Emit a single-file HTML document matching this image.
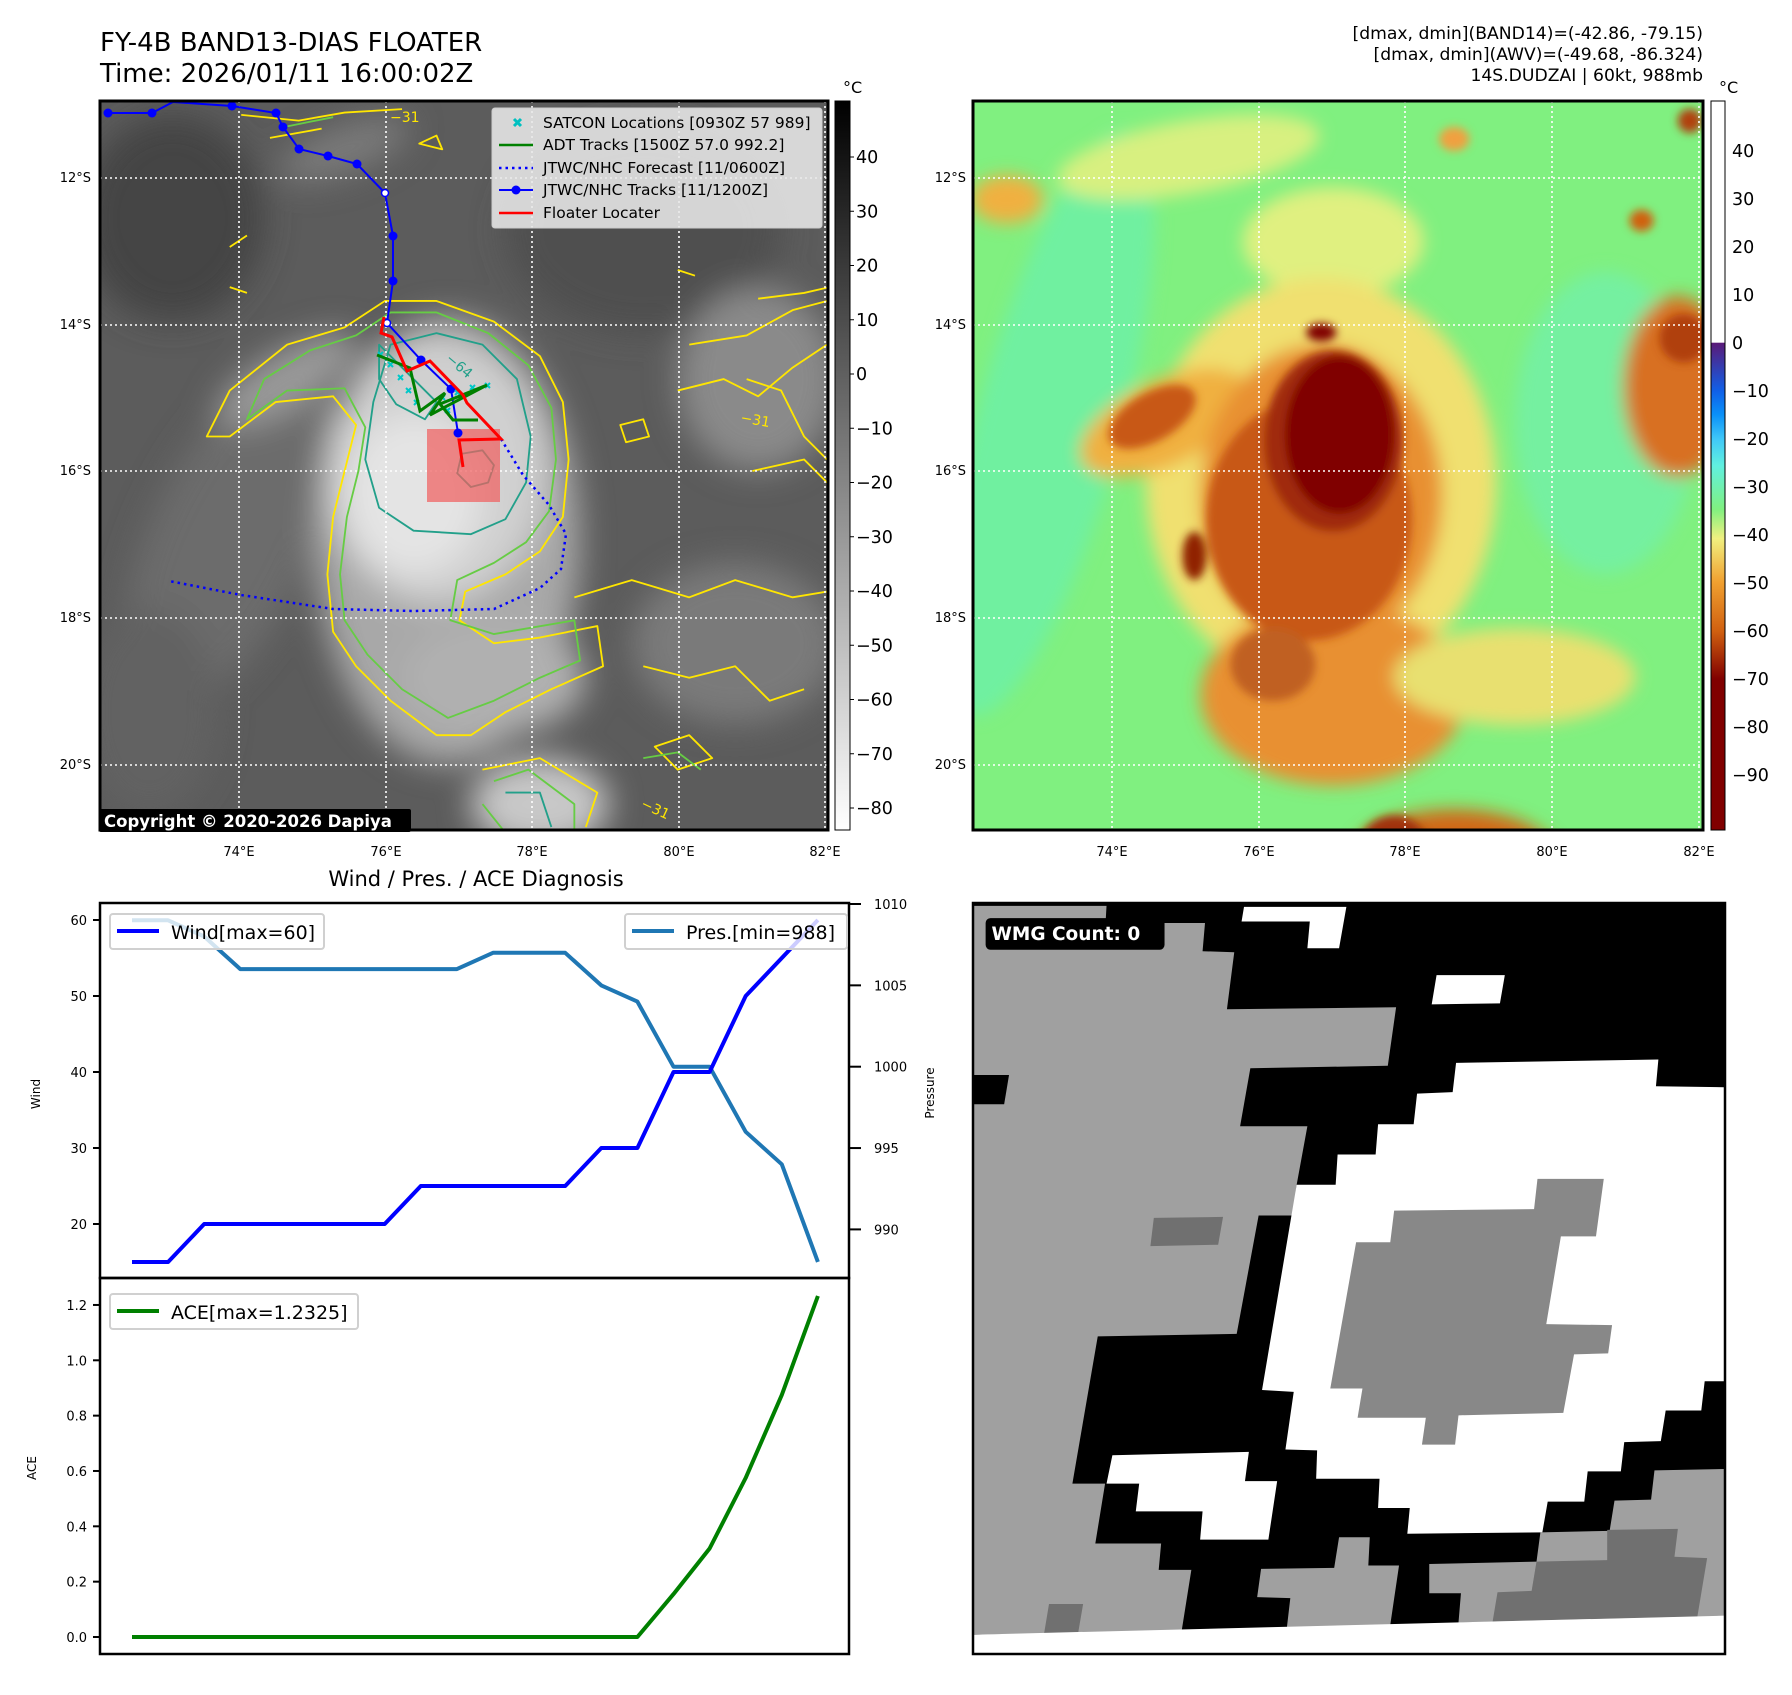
<!DOCTYPE html>
<html><head><meta charset="utf-8"><title>FY-4B BAND13-DIAS FLOATER</title>
<style>
html,body{margin:0;padding:0;background:#fff;}
body{width:1792px;height:1690px;overflow:hidden;font-family:"Liberation Sans","DejaVu Sans",sans-serif;}
svg text{font-family:"DejaVu Sans","Liberation Sans",sans-serif;}
</style></head>
<body>
<svg id="root" width="1792" height="1690" viewBox="0 0 1792 1690" xmlns="http://www.w3.org/2000/svg">
<defs>
  <clipPath id="clipL"><rect x="100" y="101" width="728" height="729"/></clipPath>
  <clipPath id="clipR"><rect x="973" y="101" width="730" height="729"/></clipPath>
  <clipPath id="clipW"><rect x="973" y="903" width="752" height="751"/></clipPath>
  <filter id="blur1" filterUnits="userSpaceOnUse" x="-500" y="-500" width="3000" height="3000"><feGaussianBlur stdDeviation="14"/></filter>
  <filter id="blur2" filterUnits="userSpaceOnUse" x="-500" y="-500" width="3000" height="3000"><feGaussianBlur stdDeviation="7"/></filter>
  <linearGradient id="cbL" x1="0" y1="0" x2="0" y2="1">
    <stop offset="0" stop-color="#000"/><stop offset="1" stop-color="#fff"/>
  </linearGradient>
  <linearGradient id="cbR" x1="0" y1="0" x2="0" y2="1">
    <stop offset="0" stop-color="#fff"/><stop offset="0.331" stop-color="#fff"/>
    <stop offset="0.332" stop-color="#5a1a78"/><stop offset="0.398" stop-color="#1060e8"/>
    <stop offset="0.43" stop-color="#0a90f8"/><stop offset="0.464" stop-color="#40c8f8"/>
    <stop offset="0.5" stop-color="#60f0e0"/><stop offset="0.56" stop-color="#80f080"/>
    <stop offset="0.6" stop-color="#f0f080"/><stop offset="0.66" stop-color="#f0a030"/>
    <stop offset="0.727" stop-color="#d06010"/><stop offset="0.793" stop-color="#800000"/>
    <stop offset="1" stop-color="#800000"/>
  </linearGradient>
</defs>

<text x="100" y="51" font-size="26" fill="#000">FY-4B BAND13-DIAS FLOATER</text>
<text x="100" y="82" font-size="26" fill="#000">Time: 2026/01/11 16:00:02Z</text>
<g font-size="17.2" text-anchor="end" fill="#000">
  <text x="1703" y="39">[dmax, dmin](BAND14)=(-42.86, -79.15)</text>
  <text x="1703" y="60">[dmax, dmin](AWV)=(-49.68, -86.324)</text>
  <text x="1703" y="81">14S.DUDZAI | 60kt, 988mb</text>
</g>

<!-- LEFT MAP -->
<g clip-path="url(#clipL)">
  <rect x="100" y="101" width="728" height="729" fill="#5c5c5c"/>
  <g filter="url(#blur1)" transform="scale(1.1487)">
    <ellipse cx="150" cy="190" rx="80" ry="90" fill="#444"/>
    <ellipse cx="560" cy="200" rx="120" ry="90" fill="#505050"/>
    <ellipse cx="200" cy="470" rx="70" ry="160" fill="#6c6c6c" transform="rotate(25 200 470)"/>
    <ellipse cx="130" cy="620" rx="60" ry="90" fill="#626262"/>
    <ellipse cx="660" cy="330" rx="70" ry="80" fill="#8a8a8a"/>
    <ellipse cx="640" cy="560" rx="90" ry="70" fill="#7a7a7a"/>
    <ellipse cx="390" cy="470" rx="115" ry="195" fill="#a8a8a8"/>
    <ellipse cx="380" cy="410" rx="95" ry="115" fill="#d0d0d0"/>
    <ellipse cx="360" cy="430" rx="60" ry="70" fill="#e4e4e4"/>
    <ellipse cx="430" cy="590" rx="80" ry="50" fill="#b0b0b0"/>
    <ellipse cx="470" cy="700" rx="60" ry="40" fill="#c8c8c8"/>
    <ellipse cx="250" cy="330" rx="70" ry="25" fill="#9a9a9a" transform="rotate(-30 250 330)"/>
    <ellipse cx="300" cy="130" rx="60" ry="20" fill="#7a7a7a" transform="rotate(-20 300 130)"/>
  </g>
  <g transform="scale(1.1487)" fill="none" stroke-width="1.6" stroke-linejoin="round">
    <path stroke="#ffe600" d="M335,262 L380,262 L430,280 L470,310 L490,350 L495,400 L490,450 L470,480 L440,500 L405,515 L400,540 L430,560 L470,555 L520,545 L525,580 L480,600 L440,620 L410,640 L380,640 L340,610 L310,580 L290,550 L285,500 L290,450 L300,410 L310,370 L290,345 L240,350 L200,380 L180,380 L200,340 L250,300 L300,285 Z"/>
    <path stroke="#66cc44" d="M340,272 L380,272 L425,290 L460,318 L480,355 L484,400 L478,445 L458,472 L430,490 L398,505 L392,540 L430,552 L500,540 L505,575 L470,590 L430,610 L390,625 L350,600 L320,570 L300,540 L296,500 L302,450 L312,410 L318,372 L300,338 L250,340 L215,365 L230,330 L270,305 L310,292 Z"/>
    <path stroke="#22a08a" d="M340,300 L380,290 L420,300 L450,330 L462,380 L458,420 L440,452 L410,465 L360,462 L330,442 L318,400 L325,350 Z"/>
    <path stroke="#22a08a" d="M330,300 L360,330 L380,350 L370,365 L345,352 L330,330 Z"/>
    <path stroke="#ffe600" d="M600,300 L650,292 L690,270 L720,262 M590,340 L630,330 L660,345 L690,320 L720,300 M540,370 L560,365 L565,380 L545,385 Z M655,410 L700,400 L720,420"/>
    <path stroke="#ffe600" d="M500,520 L550,505 L600,520 L640,505 L690,520 L720,515 M560,580 L600,590 L640,580 L670,610 L700,600 M420,670 L470,660 L520,690 L510,720 M570,650 L600,640 L620,660 L590,670 Z"/>
    <path stroke="#66cc44" d="M430,680 L460,670 L500,700 L500,725 M420,700 L440,725 M560,660 L590,655 L610,670"/>
    <path stroke="#22a08a" d="M440,690 L470,690 L480,720"/>
    <path stroke="#ffe600" d="M210,100 L260,105 L300,98 L350,95 M235,120 L280,112 M365,125 L380,118 L385,130 Z M200,215 L215,205 M590,235 L605,240 M200,250 L215,255"/>
    <path stroke="#66cc44" d="M250,110 L290,102"/>
    <path stroke="#22a08a" d="M402,395 L420,392 L430,405 L425,420 L410,424 L398,412 Z"/>
    <path stroke="#ffe600" d="M660,260 L700,255 L722,250 M650,330 L680,340 L700,380 L720,400"/>
  </g>
  <g stroke="#fff" stroke-width="1.6" stroke-dasharray="2,3">
    <line x1="239" y1="101" x2="239" y2="830"/><line x1="386" y1="101" x2="386" y2="830"/>
    <line x1="532" y1="101" x2="532" y2="830"/><line x1="679" y1="101" x2="679" y2="830"/>
    <line x1="825" y1="101" x2="825" y2="830"/>
    <line x1="100" y1="178" x2="828" y2="178"/><line x1="100" y1="325" x2="828" y2="325"/>
    <line x1="100" y1="471" x2="828" y2="471"/><line x1="100" y1="618" x2="828" y2="618"/>
    <line x1="100" y1="765" x2="828" y2="765"/>
  </g>
  <polyline fill="none" stroke="#0000ff" stroke-width="2.5" stroke-dasharray="2.5,4" points="501,439 523,475 549,505 566,534 561,569 540,588 494,609 414,611 333,609 241,595 169,581"/>
  <rect x="427" y="429" width="73" height="73" fill="#f06060" fill-opacity="0.72"/>
  <g>
    <polyline fill="none" stroke="#0000ff" stroke-width="2" points="108,113 152,113 173,102 232,106 276,113 283,127 299,149 328,156 357,164 385,193 393,236 393,281 387,323 421,360 451,389 458,433"/>
    <g fill="#0000ff">
      <circle cx="108" cy="113" r="4.5"/><circle cx="152" cy="113" r="4.5"/><circle cx="232" cy="106" r="4.5"/>
      <circle cx="276" cy="113" r="4.5"/><circle cx="283" cy="127" r="4.5"/><circle cx="299" cy="149" r="4.5"/>
      <circle cx="328" cy="156" r="4.5"/><circle cx="357" cy="164" r="4.5"/><circle cx="393" cy="236" r="4.5"/>
      <circle cx="393" cy="281" r="4.5"/><circle cx="421" cy="360" r="4.5"/><circle cx="451" cy="389" r="4.5"/><circle cx="458" cy="433" r="4.5"/>
    </g>
    <circle cx="385" cy="193" r="3.5" fill="#fff" stroke="#0000ff" stroke-width="1.5"/>
    <circle cx="387" cy="323" r="3.5" fill="#fff" stroke="#0000ff" stroke-width="1.5"/>
  </g>
  <g stroke="#00c8c8" stroke-width="2">
    <path d="M378,352 l5,5 m0,-5 l-5,5 M388,362 l5,5 m0,-5 l-5,5 M398,375 l5,5 m0,-5 l-5,5 M406,388 l5,5 m0,-5 l-5,5 M414,400 l5,5 m0,-5 l-5,5 M440,395 l5,5 m0,-5 l-5,5 M455,390 l5,5 m0,-5 l-5,5 M470,385 l5,5 m0,-5 l-5,5 M485,383 l5,5 m0,-5 l-5,5 M445,408 l5,5 m0,-5 l-5,5"/>
  </g>
  <polyline fill="none" stroke="#008000" stroke-width="3" points="377,355 410,368 420,411 445,393 430,415 487,385 440,404 453,420 478,420"/>
  <polyline fill="none" stroke="#ff0000" stroke-width="3" points="384,317 381,333 392,337 407,371 430,361 463,395 467,403 501,439 459,440 463,467"/>
  <g font-size="14" fill="#22a08a">
    <text x="445" y="360" transform="rotate(40 445 360)">−64</text>
  </g>
  <g font-size="14" fill="#ffe600">
    <text x="390" y="122">−31</text>
    <text x="740" y="422" transform="rotate(10 740 422)">−31</text>
    <text x="640" y="807" transform="rotate(25 640 807)">−31</text>
  </g>
</g>
<rect x="100" y="101" width="728" height="729" fill="none" stroke="#000" stroke-width="3"/>
<rect x="99" y="809" width="312" height="23" rx="2" fill="#000"/>
<text x="104" y="827" font-size="16.5" font-weight="bold" fill="#fff">Copyright © 2020-2026 Dapiya</text>

<g>
  <rect x="492" y="108" width="330" height="120" rx="3" fill="#e8e8e8" fill-opacity="0.88" stroke="#ccc"/>
  <path d="M514,119 l7,7 m0,-7 l-7,7" stroke="#00c0c0" stroke-width="3"/>
  <line x1="499" y1="145" x2="533" y2="145" stroke="#008000" stroke-width="2.5"/>
  <line x1="499" y1="168" x2="533" y2="168" stroke="#0000ff" stroke-width="2.5" stroke-dasharray="2.5,4"/>
  <line x1="499" y1="190" x2="533" y2="190" stroke="#0000ff" stroke-width="2"/><circle cx="516" cy="190" r="4.5" fill="#0000ff"/>
  <line x1="499" y1="213" x2="533" y2="213" stroke="#ff0000" stroke-width="2.5"/>
  <g font-size="15.5" fill="#000">
    <text x="543" y="128">SATCON Locations [0930Z 57 989]</text>
    <text x="543" y="150">ADT Tracks [1500Z 57.0 992.2]</text>
    <text x="543" y="173">JTWC/NHC Forecast [11/0600Z]</text>
    <text x="543" y="195">JTWC/NHC Tracks [11/1200Z]</text>
    <text x="543" y="218">Floater Locater</text>
  </g>
</g>

<g font-size="13" fill="#000" text-anchor="end">
  <text x="91" y="182">12°S</text><text x="91" y="329">14°S</text><text x="91" y="475">16°S</text>
  <text x="91" y="622">18°S</text><text x="91" y="769">20°S</text>
</g>
<g font-size="13" fill="#000" text-anchor="middle">
  <text x="239" y="856">74°E</text><text x="386" y="856">76°E</text><text x="532" y="856">78°E</text>
  <text x="679" y="856">80°E</text><text x="825" y="856">82°E</text>
</g>
<rect x="835" y="101" width="15" height="729" fill="url(#cbL)" stroke="#000" stroke-width="1"/>
<text x="843" y="93" font-size="16">°C</text>
<g id="cbLticks" font-size="17.5" fill="#000"></g>

<!-- RIGHT MAP -->
<g clip-path="url(#clipR)">
  <rect x="973" y="101" width="730" height="729" fill="#80f080"/>
  <g transform="translate(850 0) scale(0.6042)">
    <g filter="url(#blur1)">
      <ellipse cx="330" cy="700" rx="120" ry="500" fill="#70f0a0" transform="rotate(15 330 700)"/>
      <ellipse cx="1250" cy="700" rx="150" ry="250" fill="#74f0a0"/>
      <ellipse cx="560" cy="260" rx="220" ry="60" fill="#d8f080" transform="rotate(-10 560 260)"/>
      <ellipse cx="800" cy="400" rx="150" ry="90" fill="#e0f080"/>
      <ellipse cx="780" cy="800" rx="290" ry="340" fill="#f0e070"/>
      <ellipse cx="520" cy="700" rx="150" ry="70" fill="#f0b040" transform="rotate(-25 520 700)"/>
      <ellipse cx="780" cy="820" rx="200" ry="250" fill="#e89030"/>
      <ellipse cx="800" cy="1150" rx="220" ry="150" fill="#e89030"/>
      <ellipse cx="1000" cy="1420" rx="170" ry="80" fill="#d06818"/>
      <ellipse cx="1370" cy="640" rx="90" ry="150" fill="#d87020"/>
      <ellipse cx="1100" cy="1120" rx="200" ry="80" fill="#e8e070"/>
      <ellipse cx="260" cy="330" rx="60" ry="40" fill="#f0b040"/>
    </g>
    <g filter="url(#blur2)">
      <ellipse cx="500" cy="690" rx="80" ry="40" fill="#c85818" transform="rotate(-30 500 690)"/>
      <ellipse cx="760" cy="860" rx="170" ry="200" fill="#c85818"/>
      <ellipse cx="800" cy="730" rx="115" ry="150" fill="#a02a08"/>
      <ellipse cx="810" cy="720" rx="90" ry="130" fill="#800000"/>
      <ellipse cx="780" cy="550" rx="25" ry="15" fill="#800000"/>
      <ellipse cx="570" cy="920" rx="20" ry="40" fill="#902000"/>
      <ellipse cx="700" cy="1100" rx="70" ry="60" fill="#c06020"/>
      <ellipse cx="900" cy="1410" rx="60" ry="60" fill="#a03010"/>
      <ellipse cx="1380" cy="560" rx="40" ry="40" fill="#b04010"/>
      <ellipse cx="1310" cy="365" rx="20" ry="18" fill="#d06010"/>
      <ellipse cx="1390" cy="200" rx="20" ry="20" fill="#b04010"/>
      <ellipse cx="1000" cy="230" rx="25" ry="20" fill="#f0a040"/>
    </g>
  </g>
  <g stroke="#fff" stroke-width="1.6" stroke-dasharray="2,3">
    <line x1="1112" y1="101" x2="1112" y2="830"/><line x1="1259" y1="101" x2="1259" y2="830"/>
    <line x1="1405" y1="101" x2="1405" y2="830"/><line x1="1552" y1="101" x2="1552" y2="830"/>
    <line x1="1699" y1="101" x2="1699" y2="830"/>
    <line x1="973" y1="178" x2="1703" y2="178"/><line x1="973" y1="325" x2="1703" y2="325"/>
    <line x1="973" y1="471" x2="1703" y2="471"/><line x1="973" y1="618" x2="1703" y2="618"/>
    <line x1="973" y1="765" x2="1703" y2="765"/>
  </g>
</g>
<rect x="973" y="101" width="730" height="729" fill="none" stroke="#000" stroke-width="3"/>
<g font-size="13" fill="#000" text-anchor="end">
  <text x="966" y="182">12°S</text><text x="966" y="329">14°S</text><text x="966" y="475">16°S</text>
  <text x="966" y="622">18°S</text><text x="966" y="769">20°S</text>
</g>
<g font-size="13" fill="#000" text-anchor="middle">
  <text x="1112" y="856">74°E</text><text x="1259" y="856">76°E</text><text x="1405" y="856">78°E</text>
  <text x="1552" y="856">80°E</text><text x="1699" y="856">82°E</text>
</g>
<rect x="1711" y="101" width="14" height="729" fill="url(#cbR)" stroke="#000" stroke-width="1"/>
<text x="1719" y="93" font-size="16">°C</text>
<g id="cbRticks" font-size="17.5" fill="#000"></g>

<text x="476" y="886" font-size="21" text-anchor="middle">Wind / Pres. / ACE Diagnosis</text>
<g id="chart"></g>

<!-- BOTTOM RIGHT WMG -->
<g clip-path="url(#clipW)">
  <g transform="translate(971 901) scale(0.4875)">
    <rect x="0" y="0" width="1545" height="1545" fill="#000"/>
    <polygon fill="#a0a0a0" points="5,10 278,10 276,45 480,45 475,103 540,105 525,222 872,218 855,338 573,343 552,462 690,462 668,582 660,645 590,645 545,888 260,893 208,1195 275,1195 255,1318 390,1318 385,1372 452,1372 432,1498 5,1505"/>
    <polygon fill="#000" points="5,357 78,357 68,417 5,417"/>
    <polygon fill="#fff" points="995,332 1410,325 1405,380 1545,382 1545,985 1505,985 1498,1045 1425,1045 1415,1108 1340,1110 1333,1170 1265,1170 1258,1232 1183,1232 1172,1295 895,1298 900,1245 835,1245 838,1185 708,1185 710,1127 645,1125 662,1007 597,1003 668,582 748,582 752,520 830,520 835,458 908,458 915,395 988,392"/>
    <polygon fill="#888" points="868,635 1155,632 1162,570 1298,570 1282,688 1210,688 1180,868 1315,870 1307,928 1237,930 1215,1050 1000,1055 993,1115 925,1115 933,1060 793,1060 803,1000 737,1000 790,700 860,700"/>
    <polygon fill="#fff" points="560,12 770,12 755,97 690,97 695,42 555,42"/>
    <polygon fill="#fff" points="955,152 1095,152 1085,210 945,212"/>
    <polygon fill="#fff" points="290,1137 570,1130 562,1190 628,1190 610,1310 470,1310 475,1252 338,1252 345,1195 278,1195"/>
    <polygon fill="#707070" points="375,650 517,648 507,705 368,708"/>
    <polygon fill="#707070" points="160,1442 230,1442 220,1500 150,1502"/>
    <polygon fill="#a0a0a0" points="755,1305 818,1305 815,1363 878,1363 860,1485 648,1490 655,1430 587,1428 595,1370 745,1368"/>
    <polygon fill="#a0a0a0" points="940,1360 1160,1355 1168,1295 1310,1292 1320,1230 1395,1228 1402,1168 1545,1165 1545,1470 1000,1480 1005,1420 940,1420"/>
    <polygon fill="#707070" points="1305,1290 1450,1288 1443,1345 1510,1348 1490,1468 1070,1478 1080,1418 1150,1415 1160,1355 1305,1352"/>
    <polygon fill="#fff" points="5,1505 1545,1466 1545,1545 5,1545"/>
    <rect x="30" y="35" width="367" height="65" rx="10" fill="#000"/>
    <text x="42" y="80" font-size="38" font-weight="bold" fill="#fff">WMG Count: 0</text>
  </g>
</g>
<rect x="973" y="903" width="752" height="751" fill="none" stroke="#000" stroke-width="2.5"/>
</svg>

<script>
// ---- chart data ----
const steps = [0,1,2,3,4,5,6,7,8,9,10,11,12,13,14,15,16,17,18,19];
const windValues = [15,15,20,20,20,20,20,20,25,25,25,25,25,30,30,40,40,50,55,60];
const pressureValues = [1009,1009,1008,1006,1006,1006,1006,1006,1006,1006,1007,1007,1007,1005,1004,1000,1000,996,994,988];
const aceValues = [0,0,0,0,0,0,0,0,0,0,0,0,0,0,0,0.155,0.32,0.575,0.875,1.2325];
const windTicks = [20,30,40,50,60];
const pressureTicks = [990,995,1000,1005,1010];
const aceTicks = [0.0,0.2,0.4,0.6,0.8,1.0,1.2];
const irCbTicks = [40,30,20,10,0,-10,-20,-30,-40,-50,-60,-70,-80];
const awvCbTicks = [40,30,20,10,0,-10,-20,-30,-40,-50,-60,-70,-80,-90];

const NS = 'http://www.w3.org/2000/svg';
function mk(parent, tag, attrs, text) {
  const e = document.createElementNS(NS, tag);
  for (const k in attrs) e.setAttribute(k, attrs[k]);
  if (text !== undefined) e.textContent = text;
  parent.appendChild(e);
  return e;
}
function fmt(v){ return v < 0 ? '\u2212' + Math.abs(v) : String(v); }

const X0 = 100, X1 = 849, TOP = 903, MID = 1278, BOT = 1654;
const xs = i => 132 + i * 36.1;
const yWind = w => 920 + (60 - w) * 7.6;
const yPres = p => 904 + (1010 - p) * 16.27;
const yAce = a => 1637 - a * 276.7;

const cbL = document.getElementById('cbLticks');
irCbTicks.forEach(v => {
  const y = 157 + (40 - v) * 5.425;
  const ln = mk(cbL, 'line', {x1:850, y1:y, x2:854, y2:y, stroke:'#000'});
  
  
  const t = mk(cbL, 'text', {x:856, y:y+6}, fmt(v));
  
  
});
const cbR = document.getElementById('cbRticks');
awvCbTicks.forEach(v => {
  const y = 151 + (40 - v) * 4.8;
  const t = mk(cbR, 'text', {x:1732, y:y+6}, fmt(v));
  
  
});

const g = document.getElementById('chart');
const f1 = mk(g, 'rect', {x:X0, y:TOP, width:X1-X0, height:MID-TOP, fill:'none', stroke:'#000', 'stroke-width':2.5});


const f2 = mk(g, 'rect', {x:X0, y:MID, width:X1-X0, height:BOT-MID, fill:'none', stroke:'#000', 'stroke-width':2.5});



windTicks.forEach(v => {
  const y = yWind(v);
  mk(g, 'line', {x1:X0-7, y1:y, x2:X0, y2:y, stroke:'#000', 'stroke-width':2});
  const t = mk(g, 'text', {x:X0-13, y:y+5, 'font-size':13, 'text-anchor':'end'}, String(v));
  
  
});
pressureTicks.forEach(v => {
  const y = yPres(v);
  mk(g, 'line', {x1:X1, y1:y, x2:X1+12, y2:y, stroke:'#000', 'stroke-width':2});
  const t = mk(g, 'text', {x:X1+25, y:y+5, 'font-size':13}, String(v));
  
  
});
aceTicks.forEach(v => {
  const y = yAce(v);
  mk(g, 'line', {x1:X0-7, y1:y, x2:X0, y2:y, stroke:'#000', 'stroke-width':2});
  const t = mk(g, 'text', {x:X0-13, y:y+5, 'font-size':13, 'text-anchor':'end'}, v.toFixed(1));
  
  
});
const yl1 = mk(g, 'text', {x:40, y:1094, 'font-size':12, 'text-anchor':'middle', transform:'rotate(-90 40 1094)'}, 'Wind');


const yl2 = mk(g, 'text', {x:36, y:1468, 'font-size':12, 'text-anchor':'middle', transform:'rotate(-90 36 1468)'}, 'ACE');


const yl3 = mk(g, 'text', {x:934, y:1093, 'font-size':12, 'text-anchor':'middle', transform:'rotate(-90 934 1093)'}, 'Pressure');



function pts(vals, yf){ return vals.map((v,i)=> xs(steps[i]).toFixed(1)+','+yf(v).toFixed(1)).join(' '); }
const pl = mk(g, 'polyline', {points:pts(pressureValues, yPres), fill:'none', stroke:'#1f77b4', 'stroke-width':4, 'stroke-linejoin':'round'});


const wl = mk(g, 'polyline', {points:pts(windValues, yWind), fill:'none', stroke:'#0000ff', 'stroke-width':4, 'stroke-linejoin':'round'});


const al = mk(g, 'polyline', {points:pts(aceValues, yAce), fill:'none', stroke:'#008000', 'stroke-width':4, 'stroke-linejoin':'round'});



function legend(x, y, w, color, label, name) {
  const lg = mk(g, 'g', {});
  
  
  mk(lg, 'rect', {x:x, y:y, width:w, height:35, rx:3, fill:'#fff', 'fill-opacity':0.8, stroke:'#d0d0d0', 'stroke-width':2});
  mk(lg, 'line', {x1:x+7, y1:y+17, x2:x+49, y2:y+17, stroke:color, 'stroke-width':4});
  mk(lg, 'text', {x:x+61, y:y+25, 'font-size':19}, label);
}
legend(110, 914, 214, '#0000ff', 'Wind[max=' + Math.max(...windValues) + ']', 'wind-legend');
legend(625, 914, 222, '#1f77b4', 'Pres.[min=' + Math.min(...pressureValues) + ']', 'pressure-legend');
legend(110, 1294, 248, '#008000', 'ACE[max=1.2325]', 'ace-legend');
</script>
</body></html>
